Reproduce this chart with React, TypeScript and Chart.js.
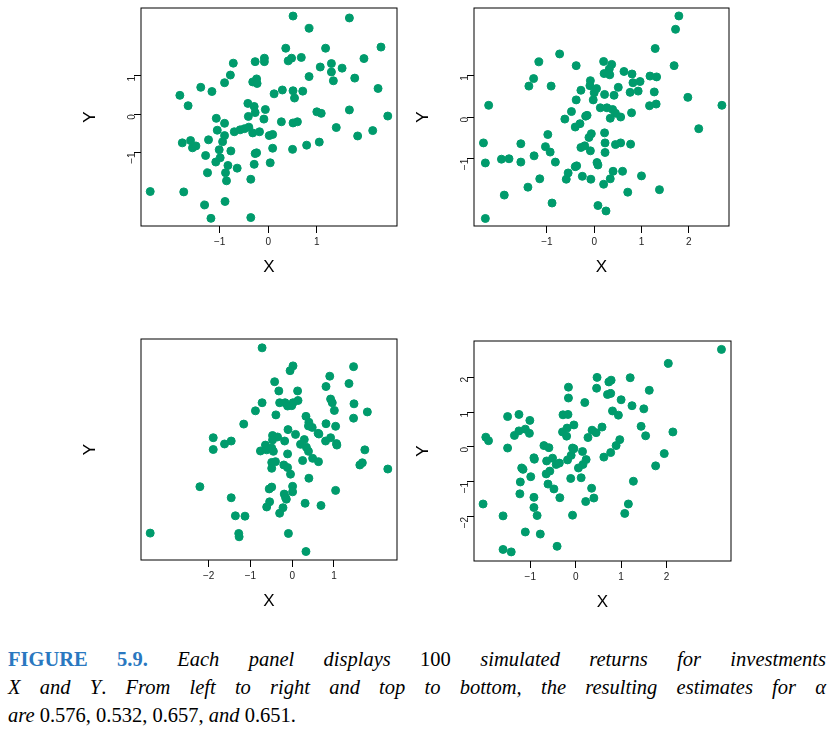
import React, { useEffect, useRef } from "react";
import { Chart, registerables } from "chart.js";

Chart.register(...registerables);

// [x, y] pairs
const panel1Points: [number, number][] = [
  [0.51, 2.56], [1.67, 2.51], [0.84, 2.24], [0.36, 1.72], [1.18, 1.72], [2.32, 1.75],
  [-0.72, 1.33], [-0.27, 1.37], [-0.08, 1.46], [-0.08, 1.37], [0.41, 1.39], [0.48, 1.46],
  [0.68, 1.48], [1.97, 1.45], [1.07, 1.23], [1.3, 1.32], [1.52, 1.2], [1.3, 1.1],
  [-0.78, 1.02], [0.84, 0.98], [1.78, 0.94], [1.34, 0.87], [-0.9, 0.82], [-0.32, 0.84],
  [-0.24, 0.92], [-0.23, 0.8], [-1.39, 0.7], [-1.16, 0.59], [-1.82, 0.49], [-1.65, 0.22],
  [0.12, 0.53], [0.29, 0.63], [0.51, 0.61], [0.54, 0.42], [0.71, 0.6], [2.26, 0.67],
  [-0.42, 0.28], [-0.29, 0.2], [-0.27, 0.04], [-0.06, 0.12], [-0.41, -0.06], [-0.09, -0.13],
  [1.0, 0.06], [1.09, 0.02], [1.67, 0.11], [2.46, -0.05], [-1.07, -0.11], [-0.9, -0.24],
  [-1.05, -0.42], [0.27, -0.2], [0.51, -0.23], [0.6, -0.2], [-0.7, -0.46], [-0.58, -0.41],
  [-0.49, -0.38], [-0.4, -0.34], [-0.32, -0.49], [-0.18, -0.46], [1.4, -0.35], [2.15, -0.43],
  [1.84, -0.57], [-0.9, -0.56], [0.02, -0.56], [0.09, -0.53], [-1.77, -0.75], [-1.6, -0.69],
  [-1.23, -0.67], [-0.94, -0.72], [-1.56, -0.88], [-1.49, -0.83], [-1.01, -0.93], [-0.77, -0.96],
  [0.09, -0.89], [0.5, -0.92], [0.79, -0.81], [1.05, -0.73], [-1.29, -1.08], [-0.99, -1.14],
  [-1.08, -1.25], [-0.27, -1.03], [-0.24, -1.01], [-0.83, -1.34], [-0.64, -1.41], [-0.29, -1.31],
  [0.04, -1.27], [-1.25, -1.53], [-0.88, -1.53], [-0.86, -1.74], [-0.36, -1.7], [-2.43, -2.02],
  [-1.74, -2.03], [-1.31, -2.37], [-0.89, -2.28], [-1.18, -2.72], [-0.36, -2.7],
];

const panel2Points: [number, number][] = [
  [1.79, 2.42], [1.72, 2.1], [1.29, 1.64], [1.69, 1.23], [-0.73, 1.51], [-1.17, 1.32],
  [-0.38, 1.23], [0.2, 1.33], [0.37, 1.26], [0.32, 1.15], [0.21, 1.04], [0.33, 1.01],
  [0.63, 1.09], [0.8, 1.03], [1.18, 0.98], [1.32, 0.96], [-1.28, 0.92], [-1.38, 0.74],
  [-0.91, 0.74], [-0.08, 0.87], [-0.09, 0.75], [0.05, 0.68], [0.0, 0.58], [-0.28, 0.64],
  [-0.38, 0.41], [-0.02, 0.41], [0.22, 0.54], [0.42, 0.52], [0.51, 0.71], [0.82, 0.82],
  [0.97, 0.85], [0.93, 0.62], [0.76, 0.59], [1.27, 0.6], [1.98, 0.47], [-2.23, 0.28],
  [2.7, 0.28], [1.17, 0.27], [1.31, 0.31], [0.13, 0.22], [0.27, 0.22], [0.39, 0.18],
  [0.45, 0.09], [0.34, -0.03], [0.56, 0.0], [0.79, 0.1], [-0.48, 0.13], [-0.62, -0.05],
  [-0.18, 0.02], [-0.15, 0.04], [-0.4, -0.24], [-0.3, -0.16], [2.21, -0.28], [-0.98, -0.42],
  [-0.06, -0.4], [-0.11, -0.49], [0.22, -0.38], [0.23, -0.62], [0.45, -0.66], [0.56, -0.62],
  [0.77, -0.65], [-2.34, -0.62], [-1.55, -0.64], [-1.03, -0.71], [-0.93, -0.84], [-0.28, -0.73],
  [-0.2, -0.69], [-0.08, -0.81], [0.23, -0.85], [-2.3, -1.1], [-1.96, -1.01], [-1.8, -1.0],
  [-1.55, -1.08], [-1.27, -0.93], [-0.82, -1.08], [-0.4, -1.19], [-0.37, -1.17], [0.06, -1.09],
  [0.08, -1.15], [-0.55, -1.34], [-0.59, -1.49], [-1.15, -1.48], [-1.4, -1.68], [-0.25, -1.42],
  [-0.07, -1.49], [0.4, -1.3], [0.34, -1.48], [0.6, -1.3], [1.0, -1.41], [0.2, -1.61],
  [0.71, -1.8], [1.38, -1.74], [-1.9, -1.87], [-0.89, -2.06], [0.08, -2.12], [0.25, -2.25],
  [-2.3, -2.43],
];

const panel3Points: [number, number][] = [
  [-0.72, 2.67], [0.02, 2.18], [-0.05, 2.05], [1.47, 2.16], [0.9, 1.9], [-0.42, 1.75],
  [0.81, 1.62], [1.36, 1.7], [-0.32, 1.5], [0.13, 1.5], [0.92, 1.28], [0.96, 1.18],
  [1.48, 1.15], [-0.72, 1.18], [-0.3, 1.18], [-0.17, 1.18], [-0.11, 1.09], [-0.01, 1.1],
  [0.02, 1.18], [0.14, 1.24], [-0.88, 0.96], [-0.39, 0.85], [1.01, 0.97], [1.8, 0.93],
  [1.47, 0.76], [0.33, 0.81], [0.4, 0.65], [0.39, 0.55], [0.48, 0.51], [0.81, 0.61],
  [1.04, 0.54], [-1.16, 0.6], [-1.89, 0.23], [-1.89, -0.09], [-1.62, 0.06], [-1.46, 0.14],
  [-0.1, 0.45], [0.08, 0.32], [0.62, 0.35], [0.64, 0.33], [-0.47, 0.29], [-0.35, 0.25],
  [-0.47, 0.17], [-0.18, 0.14], [0.29, 0.18], [0.2, 0.05], [0.34, -0.03], [0.39, -0.14],
  [0.8, 0.14], [0.92, 0.23], [1.06, 0.07], [1.07, 0.03], [1.74, -0.1], [-0.76, -0.13],
  [-0.64, 0.03], [-0.61, -0.1], [-0.49, -0.05], [-0.45, -0.14], [-0.11, -0.21], [0.25, -0.39],
  [0.49, -0.33], [0.63, -0.42], [-0.49, -0.44], [-0.4, -0.42], [-0.49, -0.6], [-0.2, -0.51],
  [-0.11, -0.58], [-0.04, -0.76], [1.62, -0.51], [1.68, -0.45], [2.29, -0.62], [0.4, -0.87],
  [-2.21, -1.1], [-0.55, -1.16], [-0.49, -1.11], [0.01, -1.09], [0.01, -1.24], [1.04, -1.2],
  [-0.19, -1.3], [-0.16, -1.39], [-0.14, -1.44], [-1.46, -1.4], [-0.54, -1.51], [-0.61, -1.65],
  [-0.22, -1.67], [-0.3, -1.82], [0.31, -1.55], [0.69, -1.61], [-1.36, -1.89], [-1.13, -1.9],
  [-3.4, -2.36], [-1.28, -2.37], [-1.27, -2.46], [-0.09, -2.37], [0.33, -2.86],
];

const panel4Points: [number, number][] = [
  [3.21, 2.79], [2.04, 2.39], [0.47, 1.99], [1.2, 1.98], [0.73, 1.86], [0.78, 1.91],
  [-0.16, 1.71], [0.46, 1.68], [1.62, 1.62], [-0.16, 1.4], [0.7, 1.5], [0.77, 1.53],
  [1.0, 1.35], [0.2, 1.27], [1.24, 1.18], [1.5, 1.09], [0.81, 1.03], [0.94, 0.91],
  [-1.5, 0.87], [-1.25, 0.93], [-1.01, 0.76], [-0.28, 0.92], [-0.17, 0.93], [-0.04, 0.63],
  [-1.35, 0.33], [-1.25, 0.46], [-1.11, 0.51], [-1.02, 0.39], [-0.29, 0.43], [-0.19, 0.54],
  [-0.2, 0.31], [0.27, 0.27], [0.36, 0.48], [0.45, 0.41], [0.58, 0.57], [1.44, 0.59],
  [1.54, 0.32], [2.14, 0.43], [-1.98, 0.28], [-1.92, 0.18], [-1.5, -0.03], [-0.7, 0.04],
  [-0.59, -0.02], [-0.07, -0.03], [-0.04, -0.05], [0.15, -0.13], [0.97, 0.21], [0.89, 0.04],
  [0.77, -0.16], [0.62, -0.29], [1.95, -0.19], [-0.92, -0.31], [-0.91, -0.35], [-0.64, -0.4],
  [-0.51, -0.32], [-0.43, -0.5], [-0.36, -0.46], [-0.18, -0.37], [-0.1, -0.24], [0.23, -0.36],
  [0.16, -0.5], [0.06, -0.6], [1.76, -0.54], [-1.19, -0.6], [-1.16, -0.64], [-0.57, -0.69],
  [-0.65, -0.77], [-0.99, -0.85], [-1.22, -1.0], [-0.61, -1.06], [-0.11, -0.9], [0.12, -0.88],
  [-0.48, -1.2], [0.35, -1.18], [1.27, -0.98], [-1.23, -1.34], [-0.92, -1.44], [-0.35, -1.45],
  [0.4, -1.46], [0.22, -1.56], [-2.04, -1.63], [-0.92, -1.73], [1.16, -1.63], [1.08, -1.9],
  [-1.6, -1.97], [-0.85, -1.96], [-0.07, -1.95], [-1.11, -2.43], [-0.78, -2.49], [-0.41, -2.84],
  [-1.6, -2.93], [-1.42, -3.0],
];

// axis ranges per panel: [xmin, xmax, ymin, ymax]
const panelRanges: [number, number, number, number][] = [
  [-2.62, 2.65, -2.92, 2.77],
  [-2.54, 2.85, -2.61, 2.61],
  [-3.62, 2.51, -3.09, 2.91],
  [-2.24, 3.42, -3.26, 3.03],
];

const POINT_COLOR = "#009b6c";
const TICK_FONT = { family: "'Liberation Sans', Arial, sans-serif", size: 10 };
const TITLE_FONT = { family: "'Liberation Sans', Arial, sans-serif", size: 17 };

const boxPlugin = {
  id: "box",
  afterDraw(chart: Chart) {
    const { ctx, chartArea: a } = chart;
    ctx.save();
    ctx.strokeStyle = "#000";
    ctx.lineWidth = 1;
    ctx.strokeRect(a.left, a.top, a.right - a.left, a.bottom - a.top);
    ctx.restore();
  },
};

const integerTicks = (scale: any) => {
  scale.ticks = scale.ticks.filter((t: any) => Math.abs(t.value - Math.round(t.value)) < 1e-9);
};
const fmt = (v: any) => (Number(v) < 0 ? "\u2212" + Math.abs(Number(v)) : String(v));

interface PanelProps {
  points: [number, number][];
  range: [number, number, number, number];
  left: number;
  top: number;
  boxW: number;
  boxH: number;
}

const Panel: React.FC<PanelProps> = ({ points, range, left, top, boxW, boxH }) => {
  const canvasRef = useRef<HTMLCanvasElement | null>(null);
  const W = 61 + boxW + 13;
  const H = 6 + boxH + 54;

  useEffect(() => {
    if (!canvasRef.current) return;
    const chart = new Chart(canvasRef.current, {
      type: "scatter",
      data: {
        datasets: [
          {
            data: points.map(([x, y]) => ({ x, y })),
            backgroundColor: POINT_COLOR,
            borderColor: POINT_COLOR,
            pointRadius: 4,
            pointHoverRadius: 4,
          },
        ],
      },
      options: {
        animation: false,
        responsive: false,
        layout: { padding: { left: 0, right: 13, top: 6, bottom: 0 } },
        plugins: { legend: { display: false }, tooltip: { enabled: false } },
        scales: {
          x: {
            min: range[0],
            max: range[1],
            afterBuildTicks: integerTicks,
            afterFit: (s: any) => { s.height = 54; },
            border: { display: false },
            grid: { drawOnChartArea: false, tickLength: 7, color: "#000" },
            ticks: { stepSize: 1, autoSkip: false, color: "#222", font: TICK_FONT, padding: 3, callback: fmt, maxRotation: 0 },
            title: { display: true, text: "X", color: "#000", font: TITLE_FONT, padding: { top: 0, bottom: 2 } },
          },
          y: {
            min: range[2],
            max: range[3],
            afterBuildTicks: integerTicks,
            afterFit: (s: any) => { s.width = 61; },
            border: { display: false },
            grid: { drawOnChartArea: false, tickLength: 7, color: "#000" },
            ticks: { stepSize: 1, autoSkip: false, color: "#222", font: TICK_FONT, padding: 2, callback: fmt, minRotation: 90, maxRotation: 90 },
            title: { display: true, text: "Y", color: "#000", font: TITLE_FONT, padding: { top: 0, bottom: 0 } },
          },
        },
      },
      plugins: [boxPlugin],
    });
    return () => chart.destroy();
  }, [points, range]);

  return (
    <canvas
      ref={canvasRef}
      width={W}
      height={H}
      style={{ position: "absolute", left: left - 61, top: top - 6, width: W, height: H }}
    />
  );
};

export default function App() {
  const lineStyle: React.CSSProperties = {
    textAlign: "justify",
    textAlignLast: "justify",
    whiteSpace: "nowrap",
  };
  return (
    <div style={{ position: "absolute", left: 0, top: 0, width: 830, height: 732, background: "#fff" }}>
      <Panel points={panel1Points} range={panelRanges[0]} left={141} top={6} boxW={256} boxH={220} />
      <Panel points={panel2Points} range={panelRanges[1]} left={474} top={6} boxW={255} boxH={220} />
      <Panel points={panel3Points} range={panelRanges[2]} left={141} top={339} boxW={256} boxH={221} />
      <Panel points={panel4Points} range={panelRanges[3]} left={474} top={339} boxW={257} boxH={222} />
      <div
        style={{
          position: "absolute",
          left: 8,
          top: 645,
          width: 818,
          fontFamily: "'Liberation Serif', 'DejaVu Serif', serif",
          fontSize: 20.5,
          lineHeight: "28px",
          color: "#000",
        }}
      >
        <div style={lineStyle}>
          <span style={{ color: "#2a78c0", fontWeight: "bold" }}>FIGURE 5.9.</span>{" "}
          <i>Each panel displays</i> 100 <i>simulated returns for investments</i>
        </div>
        <div style={lineStyle}>
          <i>X</i> <i>and</i> <i>Y</i>. <i>From left to right and top to bottom, the resulting estimates for α</i>
        </div>
        <div>
          <i>are</i> 0.576, 0.532, 0.657, <i>and</i> 0.651.
        </div>
      </div>
    </div>
  );
}
